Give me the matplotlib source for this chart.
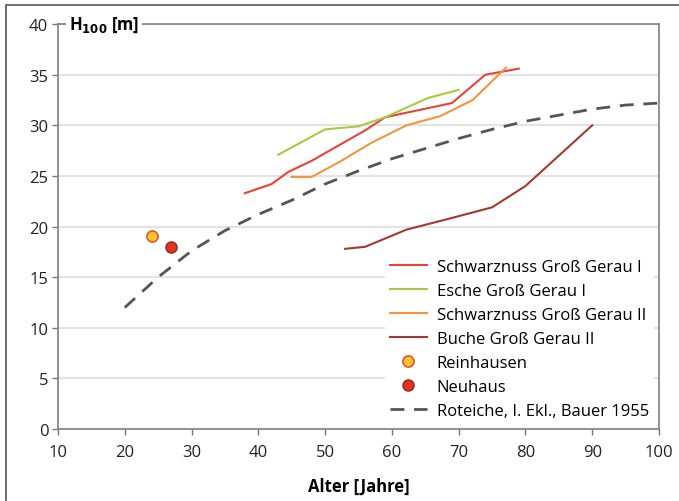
import matplotlib.pyplot as plt
from matplotlib.patches import Rectangle

plt.rcParams['font.family'] = ['Open Sans', 'DejaVu Sans']

# Schwarznuss Groß Gerau I
sn1_age = [38, 42, 44.5, 48, 52, 56, 59, 64, 69, 74, 79]
sn1_h = [23.3, 24.2, 25.4, 26.5, 28.0, 29.5, 30.8, 31.5, 32.2, 35.0, 35.6]
# Esche Groß Gerau I
es_age = [43, 50, 55, 59, 65.4, 70]
es_h = [27.1, 29.6, 29.9, 30.8, 32.7, 33.5]
# Schwarznuss Groß Gerau II
sn2_age = [45, 48, 52.2, 57, 62.2, 67.2, 72.1, 77.1]
sn2_h = [24.9, 24.9, 26.4, 28.3, 30.0, 30.9, 32.5, 35.7]
# Buche Groß Gerau II
bu_age = [53, 56, 62.2, 68.7, 75, 80, 90]
bu_h = [17.8, 18.0, 19.7, 20.8, 21.9, 24.0, 30.0]
# single plots
rein_age, rein_h = [24.1], [19.1]
neu_age, neu_h = [26.9], [18.0]
# Roteiche, I. Ekl., Bauer 1955
ro_age = [20, 25, 30, 35, 40, 45, 50, 55, 60, 65, 70, 75, 80, 85, 90, 95, 100]
ro_h = [12.0, 15.0, 17.6, 19.6, 21.2, 22.6, 24.2, 25.5, 26.7, 27.7, 28.7,
        29.6, 30.4, 31.0, 31.6, 32.0, 32.2]

x_ticks = list(range(10, 101, 10))
y_ticks = list(range(0, 41, 5))

fig = plt.figure(figsize=(6.79, 5.02), dpi=100)
ax = fig.add_axes([0.0854, 0.1434, 0.8851, 0.8066])

# outer frame of the figure
fig.patches.append(Rectangle((5.5 / 679, -0.1), 2, 1.1 - 5.5 / 502,
                             transform=fig.transFigure, fill=False,
                             edgecolor='#555555', linewidth=1.2))

ax.plot(sn1_age, sn1_h, color='#e8423a', lw=1.5, label='Schwarznuss Groß Gerau I')
ax.plot(es_age, es_h, color='#a6cc3e', lw=1.5, label='Esche Groß Gerau I')
ax.plot(sn2_age, sn2_h, color='#f5943c', lw=1.5, label='Schwarznuss Groß Gerau II')
ax.plot(bu_age, bu_h, color='#a23a30', lw=1.5, label='Buche Groß Gerau II')
ax.plot(rein_age, rein_h, 'o', ms=8, mfc='#fcc72c', mec='#f0502a', mew=1.2,
        label='Reinhausen')
ax.plot(neu_age, neu_h, 'o', ms=8, mfc='#e8301c', mec='#8a2a1a', mew=1.0,
        label='Neuhaus')
ax.plot(ro_age, ro_h, color='#555555', lw=2, dashes=(5, 3.5),
        label='Roteiche, I. Ekl., Bauer 1955')

ax.set_xlim(10, 100)
ax.set_ylim(0, 40)
ax.set_xticks(x_ticks)
ax.set_yticks(y_ticks)
ax.tick_params(labelsize=12, colors='#222222', length=4, width=1,
               direction='out', pad=3)
ax.tick_params(axis='x', pad=7)
ax.tick_params(axis='both', color='#777777')
ax.grid(axis='y', color='#e3e3e3', lw=1.5)
ax.set_axisbelow(True)
for s in ax.spines.values():
    s.set_color('#808080')
    s.set_linewidth(1.2)

ax.set_xlabel('Alter [Jahre]', fontsize=12, fontweight='bold', labelpad=12)
ax.text(0.018, 1.0, r'H$_{\mathbf{100}}$ [m]', transform=ax.transAxes,
        fontsize=12, fontweight='bold', va='center', ha='left',
        bbox=dict(facecolor='white', edgecolor='none', pad=2))

leg = ax.legend(loc='lower right', fontsize=12, frameon=True, framealpha=1,
                edgecolor='none', facecolor='white', handlelength=2.2,
                handletextpad=0.6, labelspacing=0.48, borderaxespad=0.3,
                borderpad=0.3)
leg.get_frame().set_linewidth(0)

fig.savefig('out.png', dpi=100)
